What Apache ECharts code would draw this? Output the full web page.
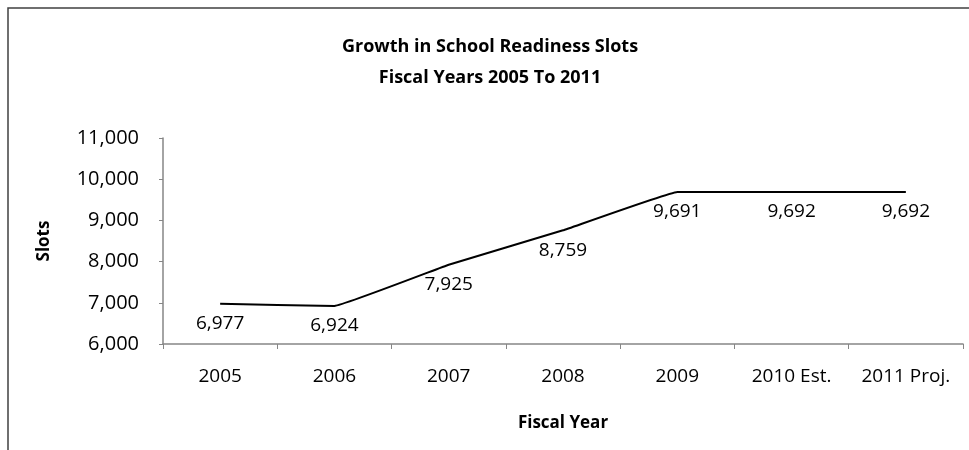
<!DOCTYPE html>
<html>
<head>
<meta charset="utf-8">
<script src="https://cdn.jsdelivr.net/npm/echarts@6/dist/echarts.min.js"></script>
<style>
  html, body { margin: 0; padding: 0; background: #fff; }
  #chart { width: 969px; height: 450px; }
</style>
</head>
<body>
<div id="chart"></div>
<script>
// 数据
var categories = ['2005', '2006', '2007', '2008', '2009', '2010 Est.', '2011 Proj.'];
var slots = [6977, 6924, 7925, 8759, 9691, 9692, 9692];
var yMin = 6000, yMax = 11000, yStep = 1000;

var myChart = echarts.init(document.getElementById('chart'));
var fontFam = '"Open Sans", "Liberation Sans", sans-serif';

myChart.setOption({
    animation: false,
    // 外框
    graphic: [{
        type: 'rect',
        shape: { x: 8, y: 8, width: 1000, height: 500 },
        style: { fill: 'none', stroke: '#404040', lineWidth: 1.5 },
        silent: true
    }],
    title: {
        text: 'Growth in School Readiness Slots\nFiscal Years 2005 To 2011',
        left: 485,
        textAlign: 'center',
        top: 26,
        textStyle: { fontFamily: fontFam, fontWeight: 'bold', fontSize: 18, lineHeight: 31, color: '#000' }
    },
    grid: { left: 163, right: 6, top: 138, bottom: 106 },
    xAxis: {
        type: 'category',
        data: categories,
        boundaryGap: true,
        name: 'Fiscal Year',
        nameLocation: 'middle',
        nameGap: 71,
        nameTextStyle: { fontFamily: fontFam, fontWeight: 'bold', fontSize: 17, color: '#000' },
        axisLine: { lineStyle: { color: '#868686', width: 1.5 } },
        axisTick: { show: true, length: 5, lineStyle: { color: '#868686' } },
        axisLabel: { fontFamily: fontFam, fontSize: 19, color: '#000', margin: 23, interval: 0 }
    },
    yAxis: {
        type: 'value',
        min: yMin,
        max: yMax,
        interval: yStep,
        name: 'Slots',
        nameLocation: 'middle',
        nameGap: 110,
        nameRotate: 90,
        nameTextStyle: { fontFamily: fontFam, fontWeight: 'bold', fontSize: 17, color: '#000' },
        axisLine: { show: true, lineStyle: { color: '#868686', width: 1.5 } },
        axisTick: { show: true, length: 4, lineStyle: { color: '#868686' } },
        axisLabel: {
            fontFamily: fontFam, fontSize: 20, color: '#000', margin: 24,
            formatter: function (v) { return v.toLocaleString('en-US'); }
        },
        splitLine: { show: false }
    },
    series: [{
        type: 'line',
        data: slots,
        smooth: 0.06,
        showSymbol: true,
        symbol: 'circle',
        symbolSize: 1,
        itemStyle: { color: 'rgba(0,0,0,0)', borderWidth: 0 },
        lineStyle: { color: '#000', width: 2 },
        label: {
            show: true,
            position: 'bottom',
            distance: 10,
            fontFamily: fontFam,
            fontSize: 19,
            color: '#000',
            formatter: function (p) { return p.value.toLocaleString('en-US'); }
        }
    }]
});
</script>
</body>
</html>
